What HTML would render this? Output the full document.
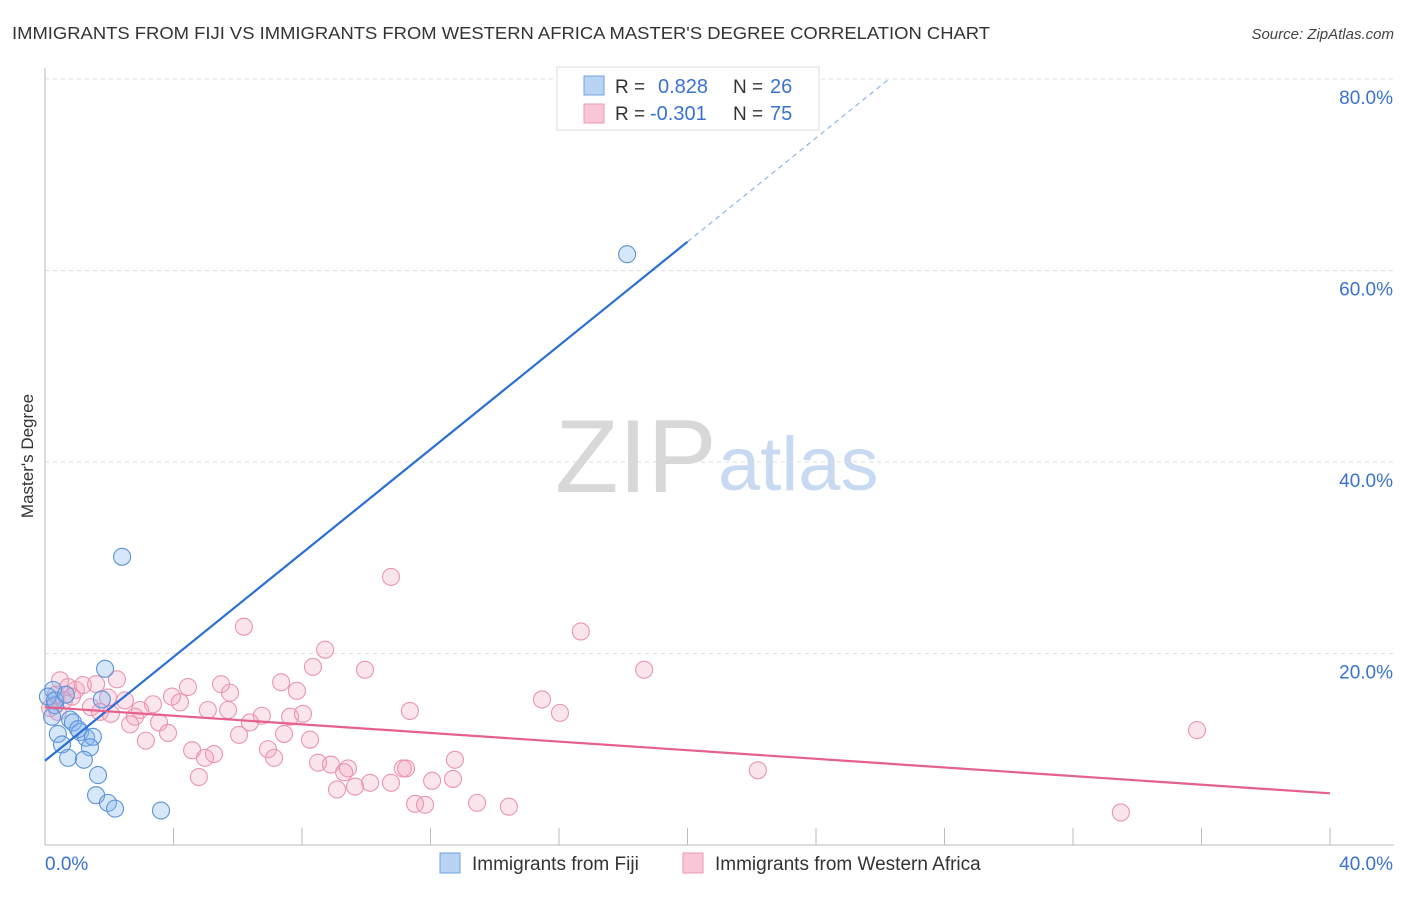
<!DOCTYPE html>
<html><head><meta charset="utf-8"><style>
body{margin:0;background:#fff;font-family:"Liberation Sans",sans-serif}
svg text{font-family:"Liberation Sans",sans-serif}
</style></head><body>
<svg id="chart" width="1406" height="892" xmlns="http://www.w3.org/2000/svg">
<text x="12" y="39" font-size="17.5" fill="#333" textLength="978" lengthAdjust="spacingAndGlyphs">IMMIGRANTS FROM FIJI VS IMMIGRANTS FROM WESTERN AFRICA MASTER'S DEGREE CORRELATION CHART</text>
<text x="1394" y="39" font-size="15" fill="#444" text-anchor="end" font-style="italic">Source: ZipAtlas.com</text>
<text x="555" y="492" font-size="104" fill="#d8d8d8" font-family="Liberation Serif,serif">ZIP</text>
<text x="718" y="490" font-size="76" fill="#c8daf2">atlas</text>
<text transform="translate(33,456) rotate(-90)" font-size="17" fill="#333" text-anchor="middle">Master's Degree</text>
<g id="grid"></g><g id="axes"></g><g id="pts"></g><g id="lines"></g>
<g>
<rect x="557" y="67" width="262" height="63" fill="#fff" stroke="#ddd"/>
<rect x="584" y="76" width="20" height="19" fill="#b9d3f3" stroke="#6fa0e0"/>
<rect x="584" y="104" width="20" height="19" fill="#f8c6d6" stroke="#ec9ab5"/>
<text x="615" y="93" font-size="19" fill="#333">R = </text><text x="658" y="93" font-size="20" fill="#3a72d0">0.828</text>
<text x="733" y="93" font-size="19" fill="#333">N = </text><text x="770" y="93" font-size="20" fill="#3a72d0">26</text>
<text x="615" y="120" font-size="19" fill="#333">R = </text><text x="650" y="120" font-size="20" fill="#3a72d0">-0.301</text>
<text x="733" y="120" font-size="19" fill="#333">N = </text><text x="770" y="120" font-size="20" fill="#3a72d0">75</text>
</g>
<g>
<rect x="440" y="853" width="20" height="20" fill="#b9d3f3" stroke="#6fa0e0"/>
<text x="472" y="870" font-size="19" fill="#333">Immigrants from Fiji</text>
<rect x="683" y="853" width="20" height="20" fill="#f8c6d6" stroke="#ec9ab5"/>
<text x="715" y="870" font-size="19" fill="#333">Immigrants from Western Africa</text>
</g>
</svg>
<script>
const fijiX=[18.12,2.40,1.87,1.77,0.25,0.31,0.22,0.78,0.87,0.40,0.53,1.09,1.28,1.49,1.40,0.72,1.21,1.65,1.59,1.96,2.18,3.61,0.09,0.31,0.65,1.03];
const fijiY=[61.7,30.1,18.4,15.2,16.2,14.6,13.4,13.1,12.8,11.6,10.5,11.8,11.2,11.3,10.2,9.1,8.9,7.3,5.2,4.4,3.8,3.6,15.5,15.1,15.7,12.1];
const waX=[10.77,6.19,16.68,8.72,18.65,9.96,8.34,2.24,4.45,5.48,7.35,7.84,5.76,3.95,15.47,2.49,3.36,5.07,5.70,6.75,7.63,8.03,11.36,16.03,1.43,1.71,2.80,2.05,3.55,2.65,3.83,6.04,7.44,3.14,4.58,6.94,8.25,5.26,4.98,7.13,8.50,8.90,9.43,9.31,11.14,11.24,12.76,4.79,10.12,10.77,12.05,12.70,9.09,9.65,11.52,11.83,13.45,14.44,22.19,35.86,33.49,0.47,0.72,0.96,1.18,1.59,0.34,0.59,0.84,0.16,0.40,1.96,2.96,4.20,6.38];
const waY=[28.0,22.8,22.3,20.4,18.3,18.3,18.6,17.3,16.5,16.8,17.0,16.1,15.9,15.5,15.2,15.1,14.7,14.1,14.1,13.5,13.4,13.7,14.0,13.8,14.4,13.9,13.4,13.7,12.8,12.6,11.7,11.5,11.6,10.9,9.9,10.0,11.0,9.5,9.1,9.1,8.6,8.4,8.0,7.6,8.0,8.0,8.9,7.1,6.5,6.5,6.7,6.9,5.8,6.1,4.3,4.2,4.4,4.0,7.8,12.0,3.4,17.2,16.5,16.2,16.7,16.8,15.7,15.1,15.5,14.3,13.9,15.4,14.1,14.9,12.8];
const yTicks=[20,40,60,80];
const yTickLabels=["20.0%","40.0%","60.0%","80.0%"];
const xTicks=[0,4,8,12,16,20,24,28,32,36,40];
const fijiLine={intercept:8.8,slope:2.71,solidEnd:20,dashEnd:26.3};
const waLine={intercept:14.4,slope:-0.225,end:40};
const NS="http://www.w3.org/2000/svg";
const sx=v=>45+v*32.125, sy=v=>845-v*9.575;
function mk(tag,attrs,parent){const e=document.createElementNS(NS,tag);for(const k in attrs)e.setAttribute(k,attrs[k]);parent.appendChild(e);return e;}
const grid=document.getElementById('grid'),axes=document.getElementById('axes'),pts=document.getElementById('pts'),lines=document.getElementById('lines');
yTicks.forEach((t,i)=>{
 const l=mk('line',{x1:45,x2:1394,y1:sy(t),y2:sy(t),stroke:'#ddd','stroke-dasharray':'4,4'},grid);
 
 
 const tx=mk('text',{x:1393,y:sy(t)+25,'font-size':19,fill:'#3a72d0','text-anchor':'end'},axes);
 tx.textContent=yTickLabels[i];
 
 
});
const ax=mk('line',{x1:45,x2:1394,y1:845,y2:845,stroke:'#bbb'},axes);


const ay=mk('line',{x1:45,x2:45,y1:68,y2:845,stroke:'#bbb'},axes);


xTicks.forEach(t=>{
 const l=mk('line',{x1:sx(t),x2:sx(t),y1:828,y2:845,stroke:'#bbb'},axes);
 
 
});
const x0=mk('text',{x:45,y:870,'font-size':19,fill:'#3a72d0'},axes);x0.textContent='0.0%';


const x1=mk('text',{x:1393,y:870,'font-size':19,fill:'#3a72d0','text-anchor':'end'},axes);x1.textContent='40.0%';


waX.forEach((v,i)=>{
 const c=mk('circle',{cx:sx(v),cy:sy(waY[i]),r:8.5,fill:'rgba(242,160,188,0.28)',stroke:'#eb94b1','stroke-width':1.1},pts);
 
 
});
fijiX.forEach((v,i)=>{
 const c=mk('circle',{cx:sx(v),cy:sy(fijiY[i]),r:8.5,fill:'rgba(130,180,238,0.32)',stroke:'#5b93d8','stroke-width':1.1},pts);
 
 
});
const f=x=>fijiLine.intercept+fijiLine.slope*x;
const fl=mk('line',{x1:sx(0),y1:sy(f(0)),x2:sx(fijiLine.solidEnd),y2:sy(f(fijiLine.solidEnd)),stroke:'#2a6fd6','stroke-width':2.2},lines);


const fd=mk('line',{x1:sx(fijiLine.solidEnd),y1:sy(f(fijiLine.solidEnd)),x2:sx(fijiLine.dashEnd),y2:sy(f(fijiLine.dashEnd)),stroke:'#8fb4e8','stroke-width':1.2,'stroke-dasharray':'5,4'},lines);


const w=x=>waLine.intercept+waLine.slope*x;
const wl=mk('line',{x1:sx(0),y1:sy(w(0)),x2:sx(waLine.end),y2:sy(w(waLine.end)),stroke:'#e5618c','stroke-width':2.2},lines);


</script>
</body></html>
